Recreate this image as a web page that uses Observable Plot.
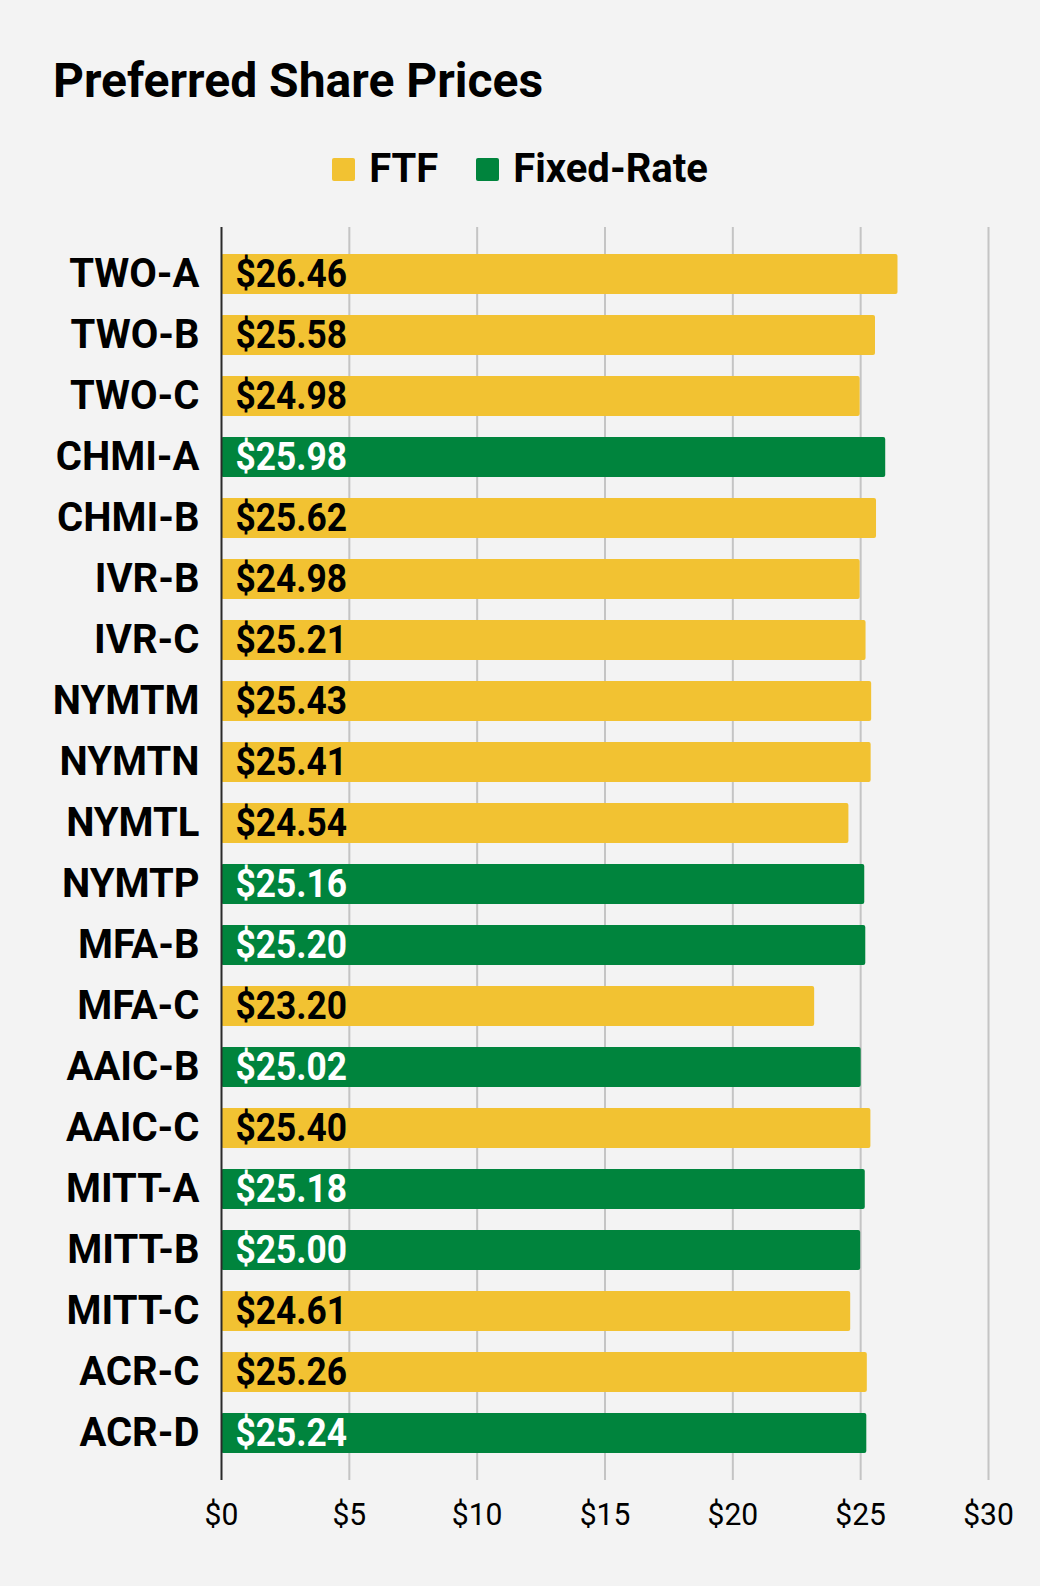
<!DOCTYPE html>
<html>
<head>
<meta charset="utf-8">
<script src="https://cdn.jsdelivr.net/npm/d3@7"></script>
<script src="https://cdn.jsdelivr.net/npm/@observablehq/plot@0.6"></script>
<style>
  html, body { margin: 0; padding: 0; background: #f3f3f3; }
  body { width: 1040px; height: 1586px; position: relative; overflow: hidden; font-family: Roboto, "Noto Sans", sans-serif; }
  #title { position: absolute; left: 53px; top: 54px; font-size: 48px; font-weight: 700; color: #000; line-height: 54px; white-space: nowrap; }
  #legend { position: absolute; left: 0; width: 1040px; top: 148px; display: flex; justify-content: center; align-items: center; font-size: 40px; font-weight: 700; color: #000; line-height: 42px; }
  .item { display: flex; align-items: center; margin: 0 19px; }
  .sw { width: 23px; height: 23px; border-radius: 2px; margin-right: 14px; }
  #chart { position: absolute; left: 0; top: 200px; }
</style>
</head>
<body>
<div id="title"></div>
<div id="legend"></div>
<div id="chart"></div>
<script>
const tickers = ["TWO-A","TWO-B","TWO-C","CHMI-A","CHMI-B","IVR-B","IVR-C","NYMTM","NYMTN","NYMTL","NYMTP","MFA-B","MFA-C","AAIC-B","AAIC-C","MITT-A","MITT-B","MITT-C","ACR-C","ACR-D"];
const prices = [26.46,25.58,24.98,25.98,25.62,24.98,25.21,25.43,25.41,24.54,25.16,25.20,23.20,25.02,25.40,25.18,25.00,24.61,25.26,25.24];
const types = ["FTF","FTF","FTF","Fixed-Rate","FTF","FTF","FTF","FTF","FTF","FTF","Fixed-Rate","Fixed-Rate","FTF","Fixed-Rate","FTF","Fixed-Rate","Fixed-Rate","FTF","FTF","Fixed-Rate"];
const seriesNames = ["FTF","Fixed-Rate"];
const seriesColors = ["#f2c232","#00843d"];
const labelColors = ["#000000","#ffffff"];
const xTicks = [0,5,10,15,20,25,30];
const titleText = "Preferred Share Prices";

document.getElementById("title").textContent = titleText;
const legend = document.getElementById("legend");
seriesNames.forEach((n, i) => {
  const it = document.createElement("div"); it.className = "item";
  const sw = document.createElement("div"); sw.className = "sw"; sw.style.background = seriesColors[i];
  const tx = document.createElement("span"); tx.textContent = n;
  it.appendChild(sw); it.appendChild(tx); legend.appendChild(it);
});

const data = tickers.map((t, i) => ({ticker: t, price: prices[i], type: types[i]}));

const chart = Plot.plot({
  width: 1040,
  height: 1386,
  marginLeft: 221,
  marginRight: 52,
  marginTop: 27,
  marginBottom: 106,
  style: { background: "transparent", fontFamily: "Roboto, sans-serif" },
  x: { domain: [0, 30], ticks: xTicks, tickFormat: d => "$" + d, label: null },
  y: { domain: tickers, range: [27, 1280], padding: 0.35, label: null },
  color: { domain: seriesNames, range: seriesColors },
  marks: [
    Plot.gridX(xTicks.slice(1), { stroke: "#c4c4c4", strokeOpacity: 1, strokeWidth: 2 }),
    Plot.barX(data, { x: "price", y: "ticker", fill: "type", rx: 2 }),
    Plot.ruleX([0], { stroke: "#2a2a2a", strokeWidth: 2 }),
    Plot.text(data, {
      x: 0, y: "ticker", text: d => "$" + d.price.toFixed(2),
      dx: 14, textAnchor: "start", fontWeight: 700, fontSize: 38,
      fill: d => labelColors[seriesNames.indexOf(d.type)]
    }),
    Plot.axisY({ tickSize: 0, tickPadding: 22, fontSize: 40, fontWeight: 700, fill: "#000", label: null }),
    Plot.axisX({ ticks: xTicks, tickFormat: d => "$" + d, tickSize: 0, tickPadding: 22, fontSize: 32, fill: "#000", label: null })
  ]
});
document.getElementById("chart").appendChild(chart);

// condense the bar value labels and tick labels slightly
function condense(sel, k) {
  chart.querySelectorAll(sel).forEach(t => {
    const len = t.getComputedTextLength();
    t.setAttribute("textLength", (len * k).toFixed(1));
    t.setAttribute("lengthAdjust", "spacingAndGlyphs");
  });
}
condense('g[aria-label="text"] text', 0.93);
condense('g[aria-label="x-axis tick label"] text', 0.94);
</script>
</body>
</html>
